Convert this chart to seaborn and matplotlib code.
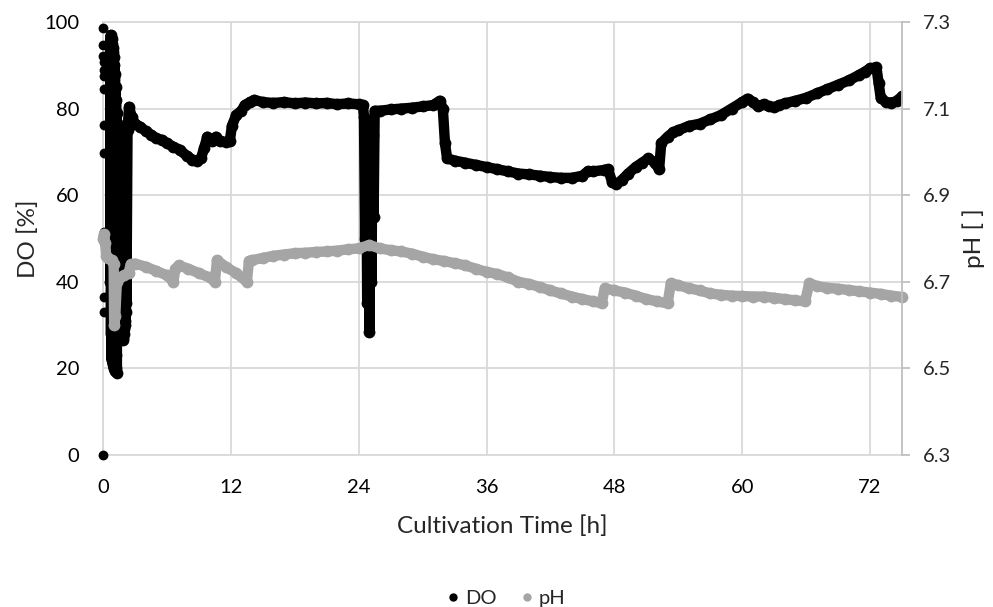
import numpy as np
import pandas as pd
import matplotlib
matplotlib.use("Agg")
import matplotlib.pyplot as plt
import seaborn as sns
from matplotlib.lines import Line2D

sns.set_style("white")
plt.rcParams["font.family"] = ["Lato", "DejaVu Sans"]

# DO readings at the very start (separate dots)
do_start_time = [0.0, 0.02, 0.03, 0.04, 0.05, 0.06, 0.07, 0.08, 0.09, 0.1, 0.1, 0.11, 0.12]
do_start_vals = [0.0, 98.5, 94.8, 92.2, 90.8, 89.0, 87.6, 84.5, 76.2, 69.8, 51.6, 36.4, 33.0]

# DO trace [%]
do_time = [0.7, 0.725, 0.75, 0.775, 0.8, 0.825, 0.85, 0.875, 0.9, 0.925, 0.95, 0.975, 1.0,
           1.025, 1.05, 1.075, 1.1, 1.125, 1.15, 1.175, 1.2, 1.225, 1.25, 1.275, 1.3,
           1.325, 1.35, 1.375, 1.4, 1.425, 1.45, 1.475, 1.5, 1.525, 1.55, 1.575, 1.6, 1.625, 1.65,
           1.675, 1.7, 1.725, 1.75, 1.775, 1.8, 1.825, 1.85, 1.875, 1.9, 1.925, 1.95, 1.975, 2.0,
           2.025, 2.05, 2.075, 2.1, 2.125, 2.15, 2.175, 2.2,
           2.3, 2.45, 2.7, 3.0, 3.5, 4.0, 4.5, 5.0, 5.5, 6.0, 6.6, 7.2, 7.9, 8.4, 8.8, 9.2, 9.5, 9.8,
           10.2, 10.6, 11.0, 11.5, 11.9, 12.1, 12.5, 13.0, 13.3, 13.8, 14.2, 15, 16, 17, 18, 19, 20,
           21, 22, 23, 24, 24.4, 24.5, 24.6, 24.7, 24.8, 24.9, 25.0, 25.1, 25.2, 25.3, 25.4, 25.5,
           26, 27, 28, 29, 30, 31, 31.6,
           31.9, 32.1, 32.3, 33, 34, 35, 36, 37, 38, 39, 40, 41, 42, 43, 44, 45, 45.5, 46, 47, 47.4,
           47.8, 48.2, 48.7, 49.3, 50, 50.6, 51.2, 51.8, 52.2, 52.4, 53, 53.5, 54, 55, 56, 57, 58, 59,
           60, 60.5, 61, 61.5, 62, 62.5, 63, 63.5, 64, 65, 66, 67, 68, 69, 70, 71, 71.5, 72, 72.6,
           72.8, 73, 73.5, 74, 74.5, 75]
do_vals = [40, 97, 28, 96.5, 22, 96, 24, 95, 21, 94, 23, 93, 20,
           92, 22, 90, 19.5, 88, 21, 85, 20, 82, 23, 79, 19,
           76, 28, 75.5, 27, 75, 26.5, 76, 28, 75, 27, 74.5, 26.5, 75, 28, 76, 27, 75,
           27.5, 74, 28, 75, 27, 76, 26.5, 75, 28, 74, 29, 75, 30, 76, 31, 75, 33, 76, 35,
           75, 80.4, 78, 76.5, 75.8, 74.8, 74, 73.1, 72.8, 72, 71.2, 70.5, 69, 68.2, 68, 68.5, 71, 73.5,
           72.5, 73.5, 72.5, 72.3, 72.5, 76, 78.5, 79.5, 80.8, 81.5, 82, 81.5, 81.3, 81.5, 81.2, 81.4, 81.2,
           81.3, 81, 81.2, 81, 80.8, 78, 50, 77, 35, 70, 28.5, 62, 40, 74, 55, 79.5,
           79.5, 79.8, 80, 80.2, 80.5, 80.8, 81.8,
           80, 72, 68.5, 68, 67.5, 67, 66.5, 66, 65.5, 65, 64.8, 64.5, 64.2, 64, 64, 64.5, 65.5, 65.5, 65.8, 66,
           63, 62.5, 63.5, 65, 66.5, 67.5, 68.5, 67.5, 66, 72, 73.5, 74.5, 75, 76, 76.5, 77.5, 78.5, 80,
           81.5, 82.3, 81.5, 80.5, 81, 80.5, 80.3, 80.8, 81.2, 81.8, 82.5, 83.5, 84.5, 85.5, 86.5, 87.8, 88.5, 89.3, 89.5,
           86, 82.5, 81.5, 81.3, 81.8, 82.8]

# pH trace [ ]
ph_time = [0.0, 0.1, 0.2, 0.3, 0.5, 0.8, 1.0, 1.05, 1.15, 1.3, 1.6, 2.0, 2.4, 2.6, 3.0, 4.0, 5.0,
           6.0, 6.6, 6.8, 7.1, 8, 9, 10, 10.5, 10.7, 11.5, 12.5, 13.5, 13.7, 14, 15, 16, 17, 18, 19,
           20, 21, 22, 23, 24, 25, 26, 27, 28, 29, 30, 31, 32, 33, 34, 35, 36, 37, 38, 39, 40, 41,
           42, 43, 44, 45, 46, 46.8, 47.1, 48, 49, 50, 51, 52, 53, 53.3, 54, 55, 56, 57, 58, 59, 60,
           61, 62, 63, 64, 65, 65.9, 66.3, 67, 68, 69, 70, 71, 72, 73, 74, 75]
ph_vals = [6.80, 6.81, 6.79, 6.76, 6.755, 6.75, 6.74, 6.60, 6.62, 6.70, 6.71, 6.715, 6.72, 6.74, 6.742,
           6.735, 6.725, 6.715, 6.70, 6.73, 6.738, 6.73, 6.72, 6.71, 6.70, 6.75, 6.735, 6.72, 6.70,
           6.748, 6.75, 6.755, 6.76, 6.763, 6.766, 6.767, 6.769, 6.77, 6.772, 6.775, 6.777, 6.785,
           6.777, 6.773, 6.77, 6.765, 6.758, 6.752, 6.748, 6.743, 6.738, 6.73, 6.723, 6.718, 6.71,
           6.70, 6.695, 6.688, 6.68, 6.673, 6.666, 6.66, 6.655, 6.65, 6.685, 6.68, 6.675, 6.668,
           6.66, 6.655, 6.65, 6.697, 6.692, 6.685, 6.68, 6.673, 6.67, 6.668, 6.667, 6.666, 6.666,
           6.663, 6.66, 6.657, 6.655, 6.697, 6.69, 6.686, 6.684, 6.681, 6.678, 6.675, 6.672, 6.668, 6.665]

do_df = pd.DataFrame({"t": do_time, "DO": do_vals})
ph_df = pd.DataFrame({"t": ph_time, "pH": ph_vals})
start_df = pd.DataFrame({"t": do_start_time, "DO": do_start_vals})

black = "#000000"
grey = "#a5a5a5"

fig = plt.figure(figsize=(9.93, 6.07), dpi=100)
ax = fig.add_axes([103 / 993, 1 - 455 / 607, 799 / 993, 433 / 607])

sns.scatterplot(data=start_df, x="t", y="DO", ax=ax, color=black, s=50, linewidth=0,
                legend=False, clip_on=False, zorder=3)
sns.lineplot(data=do_df, x="t", y="DO", ax=ax, color=black, lw=7.5, marker="o", markersize=8.5,
             markeredgewidth=0, sort=False, estimator=None, legend=False)

ax2 = ax.twinx()
sns.lineplot(data=ph_df, x="t", y="pH", ax=ax2, color=grey, lw=7.5, marker="o", markersize=8.5,
             markeredgewidth=0, sort=False, estimator=None, legend=False, clip_on=False)

ax.set_xlim(0, 75)
ax.set_ylim(0, 100)
ax2.set_ylim(6.3, 7.3)
ax.set_xticks(np.arange(0, 73, 12))
ax.set_yticks(np.arange(0, 101, 20))
ax2.set_yticks([6.3, 6.5, 6.7, 6.9, 7.1, 7.3])
ax2.set_yticklabels(["6.3", "6.5", "6.7", "6.9", "7.1", "7.3"])

ax.grid(True, color="#d9d9d9", lw=1.3)
ax.set_axisbelow(True)
for s in ["top", "bottom", "left"]:
    ax.spines[s].set_color("#d9d9d9")
    ax.spines[s].set_linewidth(1.3)
ax.spines["right"].set_visible(False)
for s in ["top", "bottom", "left"]:
    ax2.spines[s].set_visible(False)
ax2.spines["right"].set_color("#bfbfbf")
ax2.spines["right"].set_linewidth(1.3)

ax.tick_params(axis="both", length=0, labelsize=14.5, colors="#000000")
ax.tick_params(axis="y", pad=17)
ax.tick_params(axis="x", pad=17)
ax2.tick_params(axis="y", length=6, width=1.3, color="#bfbfbf", labelsize=14.5, pad=9)

ax.set_xlabel("Cultivation Time [h]", fontsize=17.5, labelpad=14)
ax.set_ylabel("DO [%]", fontsize=17.5, labelpad=4)
ax2.set_ylabel("pH [ ]", fontsize=17.5, labelpad=8)

handles = [Line2D([], [], ls="", marker="o", color=black, markersize=5),
           Line2D([], [], ls="", marker="o", color=grey, markersize=5)]
fig.legend(handles, ["DO", "pH"], loc="center", bbox_to_anchor=(506 / 993, 1 - 598 / 607),
           ncol=2, frameon=False, fontsize=14.5, handlelength=0.6, handletextpad=0.3, columnspacing=1.2)

fig.savefig("out.png", dpi=100)
